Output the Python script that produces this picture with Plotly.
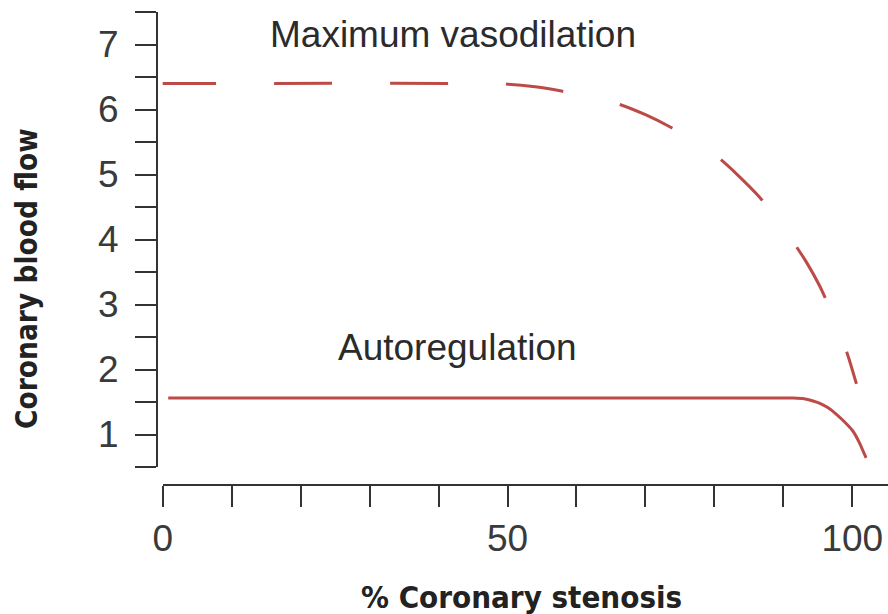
import plotly.graph_objects as go

# Curve data
vaso_x = [-0.7, 45, 50, 54, 58, 62, 66.2, 70, 73.8, 77.3, 80.7, 83.5, 86.3, 88.8,
          91.2, 93.3, 95.2, 96.8, 98.3, 99.5, 100.6]
vaso_y = [6.4, 6.4, 6.39, 6.35, 6.28, 6.19, 6.08, 5.92, 5.72, 5.5, 5.25, 4.98, 4.68, 4.36,
          4.0, 3.66, 3.3, 2.93, 2.54, 2.17, 1.78]

auto_x = [0.8, 50, 91.5, 93.0, 94.2, 95.3, 96.5, 97.7, 99.0, 100.1, 101.0, 102.0]
auto_y = [1.56, 1.56, 1.56, 1.55, 1.52, 1.48, 1.41, 1.31, 1.18, 1.05, 0.88, 0.64]

x_ticks = [0, 50, 100]
y_ticks = [1, 2, 3, 4, 5, 6, 7]

RED = '#bc4b47'
AXIS = '#333333'
W, H = 888, 614

fig = go.Figure()

fig.add_trace(go.Scatter(
    x=vaso_x, y=vaso_y, mode='lines', name='Maximum vasodilation',
    line=dict(color=RED, width=3, dash='58px,58px', shape='spline', smoothing=0.6),
    hoverinfo='skip'
))
fig.add_trace(go.Scatter(
    x=auto_x, y=auto_y, mode='lines', name='Autoregulation',
    line=dict(color=RED, width=3, shape='spline', smoothing=0.5),
    hoverinfo='skip'
))

# curve labels
label_font = dict(family='Liberation Sans, Arial', size=37, color='#2b2b2b')
fig.add_annotation(x=42.1, y=7.16, text='Maximum vasodilation', showarrow=False,
                   xanchor='center', yanchor='middle', font=label_font)
fig.add_annotation(x=42.8, y=2.34, text='Autoregulation', showarrow=False,
                   xanchor='center', yanchor='middle', font=label_font)

# axis titles
title_font = dict(family='DejaVu Sans Condensed, Liberation Sans Narrow, Arial', size=31,
                  color='#222222', weight='bold')
fig.add_annotation(xref='paper', yref='paper', x=521 / W, y=1 - 597 / H,
                   xanchor='center', yanchor='middle',
                   text='% Coronary stenosis', showarrow=False, font=title_font)
fig.add_annotation(xref='paper', yref='paper', x=27 / W, y=1 - 279 / H,
                   xanchor='center', yanchor='middle',
                   text='Coronary blood flow', showarrow=False, textangle=-90,
                   font=dict(title_font, size=29.5))

tick_font = dict(family='Liberation Sans, Arial', size=37, color='#3a3a3a')

fig.update_layout(
    width=W, height=H,
    margin=dict(l=0, r=0, t=0, b=0),
    paper_bgcolor='white',
    plot_bgcolor='white',
    showlegend=False,
    xaxis=dict(
        domain=[162.7 / W, 1], range=[0, (W - 162.7) / 6.896],
        anchor='free', position=1 - 485 / H, automargin=False,
        showline=True, linecolor=AXIS, linewidth=2,
        showgrid=False, zeroline=False,
        tickvals=x_ticks, ticks='outside', ticklen=21, tickwidth=2, tickcolor=AXIS,
        tickfont=tick_font, ticklabelstandoff=0,
        minor=dict(dtick=10, tick0=0, ticks='outside', ticklen=21, tickwidth=2,
                   tickcolor=AXIS, showgrid=False),
    ),
    yaxis=dict(
        domain=[1 - 467 / H, 1 - 12 / H], range=[0.5, 7.5],
        anchor='free', position=157 / W, automargin=False,
        showline=True, linecolor=AXIS, linewidth=2,
        showgrid=False, zeroline=False,
        tickvals=y_ticks, ticks='outside', ticklen=21, tickwidth=2, tickcolor=AXIS,
        tickfont=tick_font, ticklabelstandoff=9,
        minor=dict(dtick=0.5, tick0=0.5, ticks='outside', ticklen=21, tickwidth=2,
                   tickcolor=AXIS, showgrid=False),
    ),
)

# drop the page's default body margin so the figure sits at the window corner
fig.write_html('out.html', config={'displayModeBar': False},
               post_script="document.body.style.margin='0';")
